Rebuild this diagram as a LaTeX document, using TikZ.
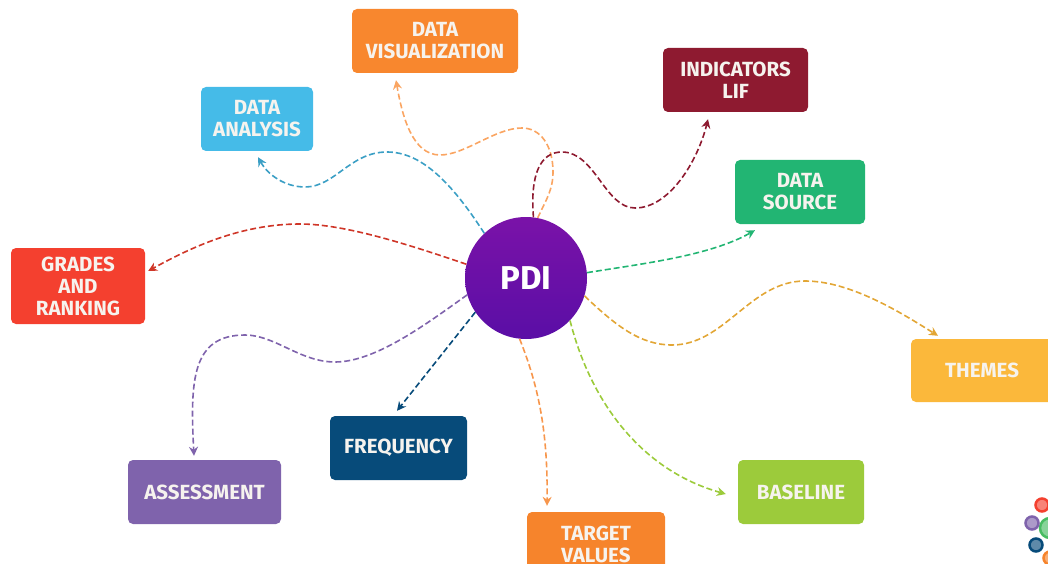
\documentclass[tikz,border=0pt]{standalone}
\usepackage{fontspec}
\setmainfont{Fira Sans}
\usetikzlibrary{arrows.meta}
\definecolor{hubtop}{HTML}{7A12A8}
\definecolor{hubbot}{HTML}{5A0EA6}
\definecolor{cvis}{HTML}{F8872E}
\definecolor{cind}{HTML}{8E1A30}
\definecolor{cana}{HTML}{45BBE8}
\definecolor{csou}{HTML}{22B573}
\definecolor{cgra}{HTML}{F4402F}
\definecolor{cthe}{HTML}{FBB83B}
\definecolor{cfre}{HTML}{074B7A}
\definecolor{cass}{HTML}{7F63AC}
\definecolor{cbas}{HTML}{9CCB3B}
\definecolor{ctar}{HTML}{F6842C}
\definecolor{ltext}{HTML}{F6F3EE}
\begin{document}
\begin{tikzpicture}[
    x=1pt, y=-1pt,
    box/.style={fill=#1, rounded corners=5pt, text=ltext, align=center, inner sep=0pt,
        font=\fontsize{20.5}{22}\selectfont\bfseries},
    link/.style={draw=#1, dashed, dash pattern=on 6pt off 3pt, line width=1.6pt,
        -{Stealth[length=9pt,width=9pt]}},
    badge/.style={circle, fill=#1!65!white, draw=#1, line width=2.5pt, inner sep=0pt, minimum size=13pt}
]
\clip (0,0) rectangle (1048,564);

% Hub
\node[circle, top color=hubtop, bottom color=hubbot, minimum size=122pt, inner sep=0pt,
    text=white, font=\fontsize{33}{36}\selectfont\bfseries] (pdi) at (526,278) {PDI};

% Upper boxes
\node[box=cvis, minimum width=166pt, minimum height=64pt] (vis) at (435,41) {DATA\\VISUALIZATION};
\node[box=cind, minimum width=145pt, minimum height=64pt] (ind) at (735.5,80) {INDICATORS\\LIF};
\node[box=cana, minimum width=112pt, minimum height=64pt] (ana) at (257,119) {DATA\\ANALYSIS};
\node[box=csou, minimum width=130pt, minimum height=64pt] (sou) at (800,192) {DATA\\SOURCE};
\node[box=cgra, minimum width=134pt, minimum height=76pt] (gra) at (78,286) {GRADES\\AND\\RANKING};

% Lower boxes
\node[box=cthe, minimum width=142pt, minimum height=63pt] (the) at (982,370.5) {THEMES};
\node[box=cfre, minimum width=137pt, minimum height=64pt] (fre) at (398.5,448) {FREQUENCY};
\node[box=cass, minimum width=153pt, minimum height=64pt] (ass) at (204.5,492) {ASSESSMENT};
\node[box=cbas, minimum width=126pt, minimum height=64pt] (bas) at (801,492) {BASELINE};
\node[box=ctar, minimum width=138pt, minimum height=64pt] (tar) at (596,544) {TARGET\\VALUES};

% Arrows
\draw[link=cvis!75!white] (pdi.79) .. controls (546,200) and (553,190) .. (553,172) .. controls (553,145) and (540,128) .. (522,128) .. controls (495,128) and (465,155) .. (440,155) .. controls (412,155) and (402,115) .. ([shift={(-39,7)}]vis.south);
\draw[link=cind] (pdi.83) .. controls (530,175) and (540,152) .. (562,152) .. controls (595,152) and (605,208) .. (635,208) .. controls (670,208) and (698,160) .. ([shift={(-27.5,7)}]ind.south);
\draw[link=cana!85!black] (pdi.133) .. controls (450,180) and (420,152) .. (387,152) .. controls (350,152) and (335,187) .. (305,187) .. controls (285,187) and (268,175) .. ([shift={(1,6)}]ana.south);
\draw[link=cgra!85!black] (pdi.167) .. controls (410,245) and (345,224) .. (300,224) .. controls (240,224) and (190,248) .. ([shift={(3,-15)}]gra.east);
\draw[link=csou] (pdi.5) .. controls (640,264) and (710,256) .. ([shift={(-45,6)}]sou.south);
\draw[link=cthe!90!black] (pdi.-17) .. controls (615,325) and (640,345) .. (672,345) .. controls (725,345) and (750,281) .. (805,281) .. controls (850,281) and (900,312) .. ([shift={(-44,-3)}]the.north);
\draw[link=cbas] (pdi.-44) .. controls (590,400) and (640,470) .. ([shift={(-12,2)}]bas.west);
\draw[link=ctar!85!white] (pdi.-96) .. controls (538,385) and (548,430) .. ([shift={(-49,-6)}]tar.north);
\draw[link=cfre] (pdi.-146) -- ([shift={(-1.5,-5)}]fre.north);
\draw[link=cass] (pdi.-164) .. controls (425,325) and (375,362) .. (335,362) .. controls (300,362) and (275,335) .. (245,335) .. controls (192,335) and (190,380) .. ([shift={(-10.5,-4)}]ass.north);

% Corner logo
\node[badge=cgra] (logoa) at (1042,505) {};
\node[badge=csou!70!cbas, minimum size=20pt] (logod) at (1050,528) {};
\node[badge=cass] (logob) at (1032,523) {};
\node[badge=cfre] (logoc) at (1036,545) {};
\node[badge=ctar] (logoe) at (1050,558) {};
\end{tikzpicture}
\end{document}
